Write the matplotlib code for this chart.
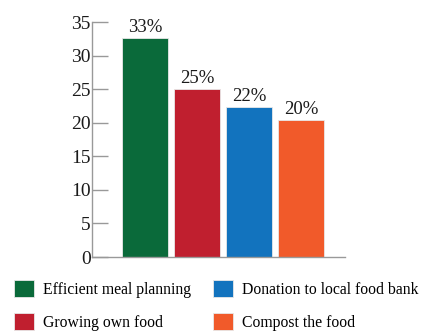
import matplotlib.pyplot as plt
from matplotlib.patches import Patch

categories = ['Efficient meal planning', 'Growing own food',
              'Donation to local food bank', 'Compost the food']
values = [32.6, 25.0, 22.3, 20.4]
bar_labels = ['33%', '25%', '22%', '20%']
colors = ['#0a6a3a', '#c01f2f', '#1273be', '#f15a2a']
yticks = [0, 5, 10, 15, 20, 25, 30, 35]

plt.rcParams['font.family'] = ['Liberation Serif', 'DejaVu Serif']

fig = plt.figure(figsize=(4.25, 3.34), dpi=100)
ax = fig.add_axes([0.2165, 0.2305, 0.5955, 0.7035])

x = list(range(len(values)))
bars = ax.bar(x, values, width=0.9, color=colors, edgecolor='#e8e8e8', linewidth=0.6)
for b, lab in zip(bars, bar_labels):
    ax.text(b.get_x() + b.get_width() / 2, b.get_height() + 0.3, lab,
            ha='center', va='bottom', fontsize=13.5, color='#1a1a1a')

ax.set_xlim(-1.02, 3.85)
ax.set_ylim(0, 35)
ax.set_yticks(yticks)
ax.set_xticks([])
ax.tick_params(axis='y', direction='in', length=11.5, width=1, color='#999999',
               labelsize=14, labelcolor='#1a1a1a', pad=1)
for s in ['top', 'right']:
    ax.spines[s].set_visible(False)
for s in ['left', 'bottom']:
    ax.spines[s].set_color('#999999')
    ax.spines[s].set_linewidth(1)

handles = [Patch(facecolor=c, edgecolor='#e8e8e8', linewidth=0.6) for c in colors]
fig.legend(handles, categories, ncol=2, loc='upper left',
           bbox_to_anchor=(0.033, 0.162), frameon=False, fontsize=11.3,
           handlelength=1.27, handleheight=1.27, handletextpad=0.55,
           columnspacing=1.45, labelspacing=1.0, borderaxespad=0, borderpad=0)

fig.savefig('out.png', dpi=100)
